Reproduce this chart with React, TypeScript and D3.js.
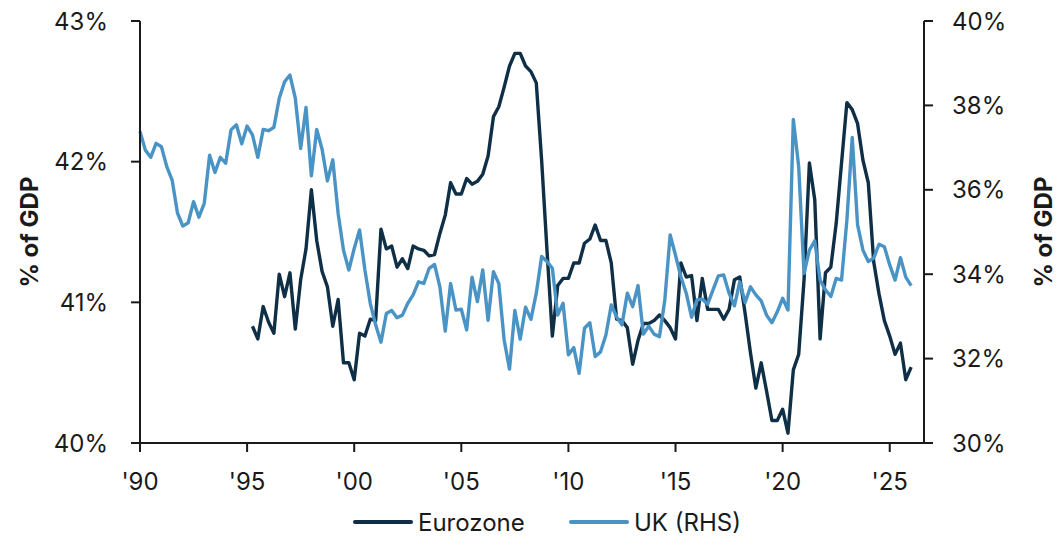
import React from 'react';
import * as d3 from 'd3';

// Quarterly data, 1990Q1 onward
const ukValues: number[] = [
  37.38, 36.94, 36.77, 37.10, 37.02, 36.55, 36.23, 35.45, 35.14, 35.22, 35.72, 35.35, 35.68, 36.82, 36.41, 36.77,
  36.63, 37.42, 37.54, 37.09, 37.51, 37.30, 36.77, 37.43, 37.40, 37.48, 38.17, 38.56, 38.72, 38.17, 36.98, 37.95,
  36.33, 37.43, 36.96, 36.21, 36.71, 35.44, 34.57, 34.10, 34.61, 35.05, 34.10, 33.31, 32.80, 32.39,
  33.07, 33.14, 32.97, 33.03, 33.31, 33.51, 33.82, 33.78, 34.14, 34.23, 33.70, 32.65, 33.78, 33.15, 33.17, 32.68,
  33.93, 33.35, 34.10, 32.91, 34.06, 33.78, 32.44, 31.75, 33.14, 32.46, 33.22, 32.93, 33.55, 34.42, 34.30, 34.14,
  33.03, 33.31, 32.09, 32.26, 31.65, 32.72, 32.85, 32.05, 32.16, 32.56, 33.27, 32.99,
  32.80, 33.55, 33.23, 33.73, 32.58, 32.77, 32.58, 32.52, 33.39, 34.93, 34.45, 33.94, 33.55, 32.98, 33.39, 33.41,
  33.29, 33.63, 33.96, 33.98, 33.55, 33.25, 33.82, 33.33, 33.70, 33.51, 33.37, 33.03, 32.85, 33.11, 33.43, 33.15,
  37.67, 36.55, 34.02, 34.57, 34.79, 33.86, 33.63, 33.47, 33.90, 33.86, 35.28, 37.24, 35.17, 34.57, 34.30, 34.38,
  34.71, 34.65, 34.22, 33.86, 34.39, 33.93, 33.73,
];

// Eurozone starts at quarter index 21 (1995Q2)
const ezStartIndex = 21;
const ezValues: number[] = [
  40.83, 40.74, 40.97, 40.86, 40.78, 41.20, 41.04, 41.21, 40.81, 41.16, 41.38, 41.80, 41.44, 41.22, 41.11, 40.83,
  41.02, 40.57, 40.57, 40.45, 40.78, 40.76, 40.88, 40.87,
  41.52, 41.38, 41.40, 41.25, 41.31, 41.24, 41.40, 41.38, 41.37, 41.33, 41.34, 41.49, 41.62, 41.85, 41.77, 41.77,
  41.88, 41.84, 41.86, 41.91, 42.04, 42.32, 42.39, 42.53, 42.68, 42.77, 42.77, 42.68, 42.64, 42.56, 42.01, 41.37,
  40.76, 41.12, 41.17, 41.17, 41.28, 41.28, 41.42, 41.45, 41.55, 41.44, 41.44, 41.28, 40.88,
  40.87, 40.82, 40.56, 40.73, 40.85, 40.85, 40.87, 40.91, 40.87, 40.82, 40.74, 41.28, 41.18, 41.19, 40.87, 41.17,
  40.95, 40.95, 40.95, 40.88, 40.95, 41.16, 41.18, 40.92, 40.64, 40.39, 40.57, 40.37, 40.16, 40.16, 40.24, 40.07,
  40.52, 40.63, 41.16, 41.99, 41.73, 40.74, 41.21, 41.25, 41.56, 41.99, 42.42, 42.37, 42.27, 42.01, 41.85, 41.29,
  41.06, 40.87, 40.76, 40.63, 40.71, 40.45, 40.54,
];

const xTickYears = [1990, 1995, 2000, 2005, 2010, 2015, 2020, 2025];
const xTickLabels = ["'90", "'95", "'00", "'05", "'10", "'15", "'20", "'25"];
const leftTicks = [40, 41, 42, 43];
const rightTicks = [30, 32, 34, 36, 38, 40];

const EZ_COLOR = '#0f2f47';
const UK_COLOR = '#4a93c5';
const FONT = 'Inter, "Noto Sans", sans-serif';

export default function App() {
  const W = 1062;
  const H = 538;
  const left = 140;
  const right = 924;
  const top = 21;
  const bottom = 443;

  const x = d3.scaleLinear().domain([1990, 2026.6]).range([left, right]);
  const yL = d3.scaleLinear().domain([40, 43]).range([bottom, top]);
  const yR = d3.scaleLinear().domain([30, 40]).range([bottom, top]);

  const ukData = ukValues.map((v, i) => ({ t: 1990 + i / 4, v }));
  const ezData = ezValues.map((v, i) => ({ t: 1990 + (i + ezStartIndex) / 4, v }));

  const ukLine = d3.line<{ t: number; v: number }>().x(d => x(d.t)).y(d => yR(d.v))(ukData) || '';
  const ezLine = d3.line<{ t: number; v: number }>().x(d => x(d.t)).y(d => yL(d.v))(ezData) || '';

  const axisColor = '#1a1a1a';
  const textColor = '#1a1a1a';

  return (
    <svg
      width={W}
      height={H}
      style={{ position: 'absolute', left: 0, top: 0, background: '#fff' }}
      fontFamily={FONT}
    >
      <rect x={0} y={0} width={W} height={H} fill="#fff" />
      {/* lines */}
      <path d={ezLine} fill="none" stroke={EZ_COLOR} strokeWidth={3.4} strokeLinejoin="round" />
      <path d={ukLine} fill="none" stroke={UK_COLOR} strokeWidth={3.4} strokeLinejoin="round" />

      {/* left axis */}
      <line x1={left} x2={left} y1={top} y2={bottom + 9} stroke={axisColor} strokeWidth={2} />
      {leftTicks.map(t => (
        <g key={'l' + t}>
          <line x1={left - 9} x2={left} y1={yL(t)} y2={yL(t)} stroke={axisColor} strokeWidth={2} />
          <text x={108} y={yL(t)} textAnchor="end" dominantBaseline="central" fontSize={24} fill={textColor}>
            {t}%
          </text>
        </g>
      ))}

      {/* right axis */}
      <line x1={right} x2={right} y1={top} y2={bottom} stroke={axisColor} strokeWidth={2} />
      {rightTicks.map(t => (
        <g key={'r' + t}>
          <line x1={right} x2={right + 9} y1={yR(t)} y2={yR(t)} stroke={axisColor} strokeWidth={2} />
          <text x={952} y={yR(t)} textAnchor="start" dominantBaseline="central" fontSize={24} fill={textColor}>
            {t}%
          </text>
        </g>
      ))}

      {/* x axis */}
      <line x1={left - 9} x2={right + 9} y1={bottom} y2={bottom} stroke={axisColor} strokeWidth={2} />
      {xTickYears.map((yr, i) => (
        <g key={'x' + yr}>
          <line x1={x(yr)} x2={x(yr)} y1={bottom} y2={bottom + 9} stroke={axisColor} strokeWidth={2} />
          <text x={x(yr)} y={481} textAnchor="middle" dominantBaseline="central" fontSize={24} fill={textColor}>
            {xTickLabels[i]}
          </text>
        </g>
      ))}

      {/* axis titles */}
      <text
        transform={`translate(29,232) rotate(-90)`}
        textAnchor="middle"
        dominantBaseline="central"
        fontSize={24}
        fontWeight={700}
        fill={textColor}
      >
        % of GDP
      </text>
      <text
        transform={`translate(1043,232) rotate(-90)`}
        textAnchor="middle"
        dominantBaseline="central"
        fontSize={24}
        fontWeight={700}
        fill={textColor}
      >
        % of GDP
      </text>

      {/* legend */}
      <line x1={355} x2={411} y1={522} y2={522} stroke={EZ_COLOR} strokeWidth={4} strokeLinecap="round" />
      <text x={418} y={522} dominantBaseline="central" fontSize={24} fill={textColor}>Eurozone</text>
      <line x1={571} x2={627} y1={522} y2={522} stroke={UK_COLOR} strokeWidth={4} strokeLinecap="round" />
      <text x={634} y={522} dominantBaseline="central" fontSize={24} fill={textColor}>UK (RHS)</text>
    </svg>
  );
}
